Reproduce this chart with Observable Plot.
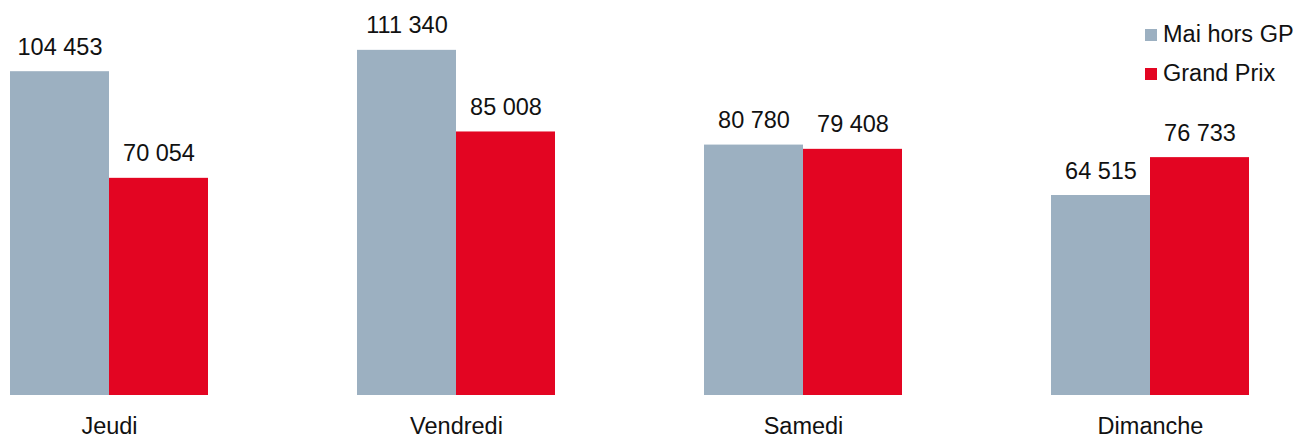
<!DOCTYPE html>
<html>
<head>
<meta charset="utf-8">
<script src="https://cdn.jsdelivr.net/npm/d3@7"></script>
<script src="https://cdn.jsdelivr.net/npm/@observablehq/plot@0.6"></script>
<style>
  body { margin: 0; background: #fff; }
  #wrap { position: relative; width: 1298px; height: 437px; font-family: "Liberation Sans", Arial, sans-serif; }
  #legend { position: absolute; left: 1145px; top: 15px; font-size: 23.5px; color: #111; }
  .item { display: flex; align-items: center; height: 39px; }
  .sw { width: 12px; height: 12px; margin-right: 6px; }
</style>
</head>
<body>
<div id="wrap"><div id="legend"></div></div>
<script>
const days = ["Jeudi", "Vendredi", "Samedi", "Dimanche"];
const seriesNames = ["Mai hors GP", "Grand Prix"];
const maiHorsGP = [104453, 111340, 80780, 64515];
const grandPrix = [70054, 85008, 79408, 76733];
const colors = ["#9cb0c1", "#e30522"];

const data = [];
days.forEach((d, i) => {
  data.push({day: d, series: seriesNames[0], value: maiHorsGP[i]});
  data.push({day: d, series: seriesNames[1], value: grandPrix[i]});
});

const fmt = d3.formatLocale({decimal: ",", thousands: " ", grouping: [3], currency: ["", "€"]}).format(",d");

const chart = Plot.plot({
  width: 1298,
  height: 437,
  marginTop: 23,
  marginBottom: 42,
  marginLeft: 10,
  marginRight: 49,
  style: {fontFamily: "'Liberation Sans', Arial, sans-serif", fontSize: "23.5px", color: "#111"},
  fx: {domain: days, paddingInner: 149 / 347, paddingOuter: 0, axis: null},
  x: {domain: seriesNames, padding: 0, axis: null},
  y: {domain: [0, 120000], axis: null},
  color: {domain: seriesNames, range: colors},
  marks: [
    Plot.barY(data, {fx: "day", x: "series", y: "value", fill: "series"}),
    Plot.text(data, {fx: "day", x: "series", y: "value", text: d => fmt(d.value), lineAnchor: "bottom", dy: -17, fill: "#111", fontSize: 23.5}),
    Plot.text(days, {fx: d => d, text: d => d, frameAnchor: "bottom", lineAnchor: "bottom", dy: 38, fill: "#111", fontSize: 23.5})
  ]
});
document.getElementById("wrap").prepend(chart);

const legend = document.getElementById("legend");
seriesNames.forEach((s, i) => {
  const it = document.createElement("div");
  it.className = "item";
  const sw = document.createElement("span");
  sw.className = "sw";
  sw.style.background = colors[i];
  const t = document.createElement("span");
  t.textContent = s;
  it.append(sw, t);
  legend.append(it);
});
</script>
</body>
</html>
